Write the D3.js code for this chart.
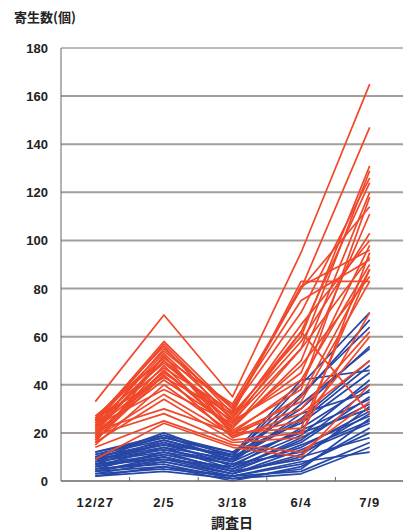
<!DOCTYPE html>
<html>
<head>
<meta charset="utf-8">
<script src="https://cdn.jsdelivr.net/npm/d3@7"></script>
<style>
  body { margin: 0; background: #fff; }
  text { font-family: "Liberation Sans", "Noto Sans CJK JP", sans-serif; font-weight: bold; fill: #222; }
</style>
</head>
<body>
<script>
'use strict';

// survey dates
const dates = ["12/27", "2/5", "3/18", "6/4", "7/9"];
const yTicks = [0, 20, 40, 60, 80, 100, 120, 140, 160, 180];

// red group: one array per tree (12/27, 2/5, 3/18, 6/4, 7/9)
const redSeries = [
    [33, 69, 35, 95, 165],
    [25, 58, 30, 80, 147],
    [24, 57, 28, 60, 131],
    [26, 56, 25, 55, 129],
    [22, 55, 30, 70, 126],
    [23, 53, 27, 62, 124],
    [20, 52, 22, 50, 120],
    [27, 51, 32, 80, 114],
    [21, 50, 24, 45, 111],
    [25, 49, 26, 58, 103],
    [18, 48, 20, 40, 98],
    [24, 47, 29, 81, 96],
    [19, 46, 22, 55, 93],
    [22, 45, 25, 42, 90],
    [17, 44, 18, 35, 88],
    [26, 43, 28, 83, 83],
    [20, 42, 23, 48, 85],
    [15, 40, 20, 30, 62],
    [23, 38, 24, 62, 28],
    [18, 36, 19, 25, 60],
    [16, 34, 17, 20, 70],
    [21, 30, 20, 22, 88],
    [19, 28, 16, 18, 95],
    [14, 25, 15, 12, 33],
    [9, 24, 14, 10, 40],
    [22, 50, 26, 65, 100],
    [17, 46, 21, 38, 118],
    [25, 54, 31, 75, 92],
    [20, 44, 18, 28, 50],
    [16, 52, 20, 33, 83]
];

// blue group
const blueSeries = [
    [10, 20, 10, 40, 70],
    [9, 19, 8, 35, 67],
    [11, 18, 12, 30, 56],
    [8, 17, 9, 25, 48],
    [12, 18, 11, 42, 46],
    [7, 16, 6, 22, 40],
    [9, 15, 8, 28, 37],
    [6, 14, 5, 18, 32],
    [10, 16, 10, 20, 30],
    [5, 12, 4, 15, 27],
    [8, 13, 7, 12, 24],
    [4, 10, 3, 10, 18],
    [3, 8, 2, 8, 12],
    [6, 11, 5, 14, 29],
    [7, 9, 6, 16, 35],
    [5, 7, 1, 5, 26],
    [2, 6, 0, 6, 22],
    [9, 14, 9, 32, 55],
    [11, 17, 10, 26, 50],
    [4, 9, 3, 11, 28],
    [3, 5, 2, 7, 20],
    [8, 12, 7, 19, 42],
    [6, 10, 4, 9, 31],
    [10, 15, 11, 36, 64],
    [5, 8, 3, 13, 25],
    [12, 19, 12, 24, 45],
    [7, 11, 5, 17, 38],
    [4, 6, 2, 4, 16],
    [9, 13, 8, 21, 34],
    [2, 4, 1, 3, 14]
];

const m = { left: 61, right: 404, top: 48, bottom: 481 };

const svg = d3.select('body').append('svg')
    .attr('width', 403)
    .attr('height', 531);

const x = d3.scaleBand().domain(dates).range([m.left, m.right]);
const y = d3.scaleLinear().domain([0, 180]).range([m.bottom, m.top]);
const cx = d => x(d) + x.bandwidth() / 2;

// gridlines
svg.append('g')
    .selectAll('line')
    .data(yTicks.filter(v => v > 0))
    .enter().append('line')
    .attr('x1', m.left).attr('x2', m.right)
    .attr('y1', d => y(d)).attr('y2', d => y(d))
    .attr('stroke', d => d == 180 ? '#777' : '#a59d99')
    .attr('stroke-width', d => d == 180 ? 1 : 2);

// y labels
svg.append('g')
    .selectAll('text')
    .data(yTicks)
    .enter().append('text')
    .attr('x', 48)
    .attr('y', d => y(d) + 5)
    .attr('text-anchor', 'end')
    .style('font-size', '13px')
    .text(d => d);

// series lines
const line = d3.line()
    .x((v, i) => cx(dates[i]))
    .y(v => y(v));

function drawGroup(series, color) {
    svg.append('g')
        .selectAll('path')
        .data(series)
        .enter().append('path')
        .attr('d', line)
        .attr('fill', 'none')
        .attr('stroke', color)
        .attr('stroke-width', 1.7)
        .attr('stroke-linejoin', 'round');
}
drawGroup(blueSeries, '#2747a6');
drawGroup(redSeries, '#f0482a');

// axes frame
svg.append('line')
    .attr('x1', m.left).attr('x2', m.left)
    .attr('y1', m.top).attr('y2', m.bottom)
    .attr('stroke', '#666').attr('stroke-width', 1);
svg.append('line')
    .attr('x1', m.left).attr('x2', m.right)
    .attr('y1', m.bottom).attr('y2', m.bottom)
    .attr('stroke', '#666').attr('stroke-width', 1.5);

// tick marks between dates
svg.append('g')
    .selectAll('line')
    .data(dates.slice(1))
    .enter().append('line')
    .attr('x1', d => x(d)).attr('x2', d => x(d))
    .attr('y1', m.bottom).attr('y2', m.bottom - 4)
    .attr('stroke', '#666');

// x labels
svg.append('g')
    .selectAll('text')
    .data(dates)
    .enter().append('text')
    .attr('x', d => cx(d))
    .attr('y', 507)
    .attr('text-anchor', 'middle')
    .style('font-size', '13px')
    .style('letter-spacing', '1px')
    .text(d => d);

svg.append('text')
    .attr('x', 232)
    .attr('y', 528)
    .attr('text-anchor', 'middle')
    .style('font-size', '14px')
    .style('font-family', '"Noto Sans CJK JP", sans-serif')
    .text('調査日');

svg.append('text')
    .attr('x', 14)
    .attr('y', 22)
    .style('font-size', '13px')
    .style('font-family', '"Noto Sans CJK JP", sans-serif')
    .text('寄生数(個)');
</script>
</body>
</html>
